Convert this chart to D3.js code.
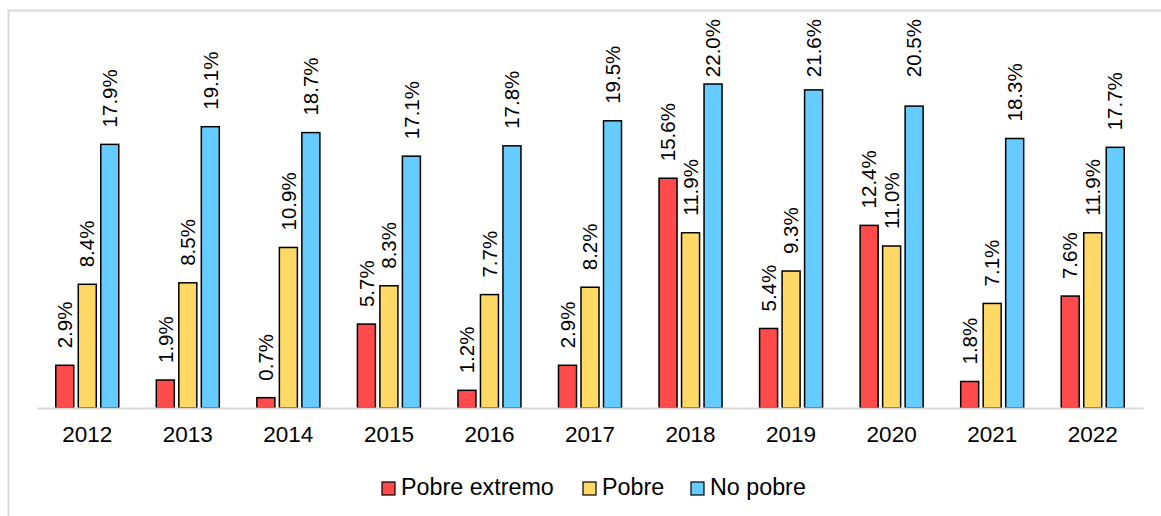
<!DOCTYPE html>
<html>
<head>
<meta charset="utf-8">
<script src="https://cdn.jsdelivr.net/npm/d3@7"></script>
<style>
  body { margin: 0; background: #fff; }
  text { font-family: "Liberation Sans", Arial, sans-serif; fill: #000; }
</style>
</head>
<body>
<script>
// data
var years = ["2012","2013","2014","2015","2016","2017","2018","2019","2020","2021","2022"];
var series = ["Pobre extremo", "Pobre", "No pobre"];
var pobreExtremo = [2.9, 1.9, 0.7, 5.7, 1.2, 2.9, 15.6, 5.4, 12.4, 1.8, 7.6];
var pobre = [8.4, 8.5, 10.9, 8.3, 7.7, 8.2, 11.9, 9.3, 11.0, 7.1, 11.9];
var noPobre = [17.9, 19.1, 18.7, 17.1, 17.8, 19.5, 22.0, 21.6, 20.5, 18.3, 17.7];
var colors = ["#ff4b4b", "#ffd966", "#66ccff"];

var width = 1161, height = 516;

var svg = d3.select("body").append("svg")
    .attr("width", width)
    .attr("height", height);

// outer chart border (runs off the right/bottom edge)
svg.append("rect")
    .attr("x", 8.5).attr("y", 10.5)
    .attr("width", 1170).attr("height", 520)
    .attr("fill", "none")
    .attr("stroke", "#d9d9d9")
    .attr("stroke-width", 2);

var x = d3.scaleBand().domain(years).range([37, 1143]).padding(0);
var xSub = d3.scaleBand().domain(series).range([-31.5, 31.5]).paddingInner(0.2);
var y = d3.scaleLinear().domain([0, 22]).range([408, 84]);

var values = [pobreExtremo, pobre, noPobre];
var rows = [];
years.forEach(function(yr, i){
    series.forEach(function(s, j){
        rows.push({year: yr, s: s, j: j, v: values[j][i]});
    });
});

// bars
svg.selectAll(".bar")
    .data(rows)
    .enter()
    .append("rect")
    .attr("class", "bar")
    .attr("x", function(d){ return x(d.year) + x.bandwidth()/2 + xSub(d.s); })
    .attr("y", function(d){ return y(d.v); })
    .attr("width", xSub.bandwidth())
    .attr("height", function(d){ return y(0) - y(d.v); })
    .attr("fill", function(d){ return colors[d.j]; })
    .attr("stroke", "#000")
    .attr("stroke-width", 1.5);

// axis baseline
var xAxis = svg.append("g")
    .attr("transform", "translate(0," + y(0) + ")")
    .call(d3.axisBottom(x).tickSize(0).tickPadding(18));
xAxis.select(".domain").attr("stroke", "#d9d9d9").attr("stroke-width", 2);
xAxis.selectAll("text")
    .style("font-size", "22.5px")
    .style("font-family", "'Liberation Sans', Arial, sans-serif")
    .attr("fill", "#000");

// value labels, rotated; labels that would crowd the top get pinned there
var labels = svg.selectAll(".lbl")
    .data(rows)
    .enter()
    .append("text")
    .attr("class", "lbl")
    .style("font-size", "20.5px")
    .attr("text-anchor", "start")
    .attr("dy", "0.35em")
    .text(function(d){ return d.v.toFixed(1) + "%"; });

labels.each(function(d){
    var len = this.getComputedTextLength();
    var cx = x(d.year) + x.bandwidth()/2 + xSub(d.s) + xSub.bandwidth()/2;
    var ay = y(d.v) - 17;
    if (ay - len < 35) ay = 19 + len;
    d3.select(this).attr("transform", "translate(" + cx + "," + ay + ") rotate(-90)");
});

// legend
var legendX = [382, 583, 691];
var legend = svg.selectAll(".leg")
    .data(series)
    .enter()
    .append("g")
    .attr("class", "leg")
    .attr("transform", function(d, i){ return "translate(" + legendX[i] + ",482)"; });
legend.append("rect")
    .attr("width", 13).attr("height", 13)
    .attr("fill", function(d, i){ return colors[i]; })
    .attr("stroke", "#000")
    .attr("stroke-width", 1.2);
legend.append("text")
    .attr("x", 19)
    .attr("y", 13)
    .style("font-size", "23.3px")
    .text(function(d){ return d; });
</script>
</body>
</html>
